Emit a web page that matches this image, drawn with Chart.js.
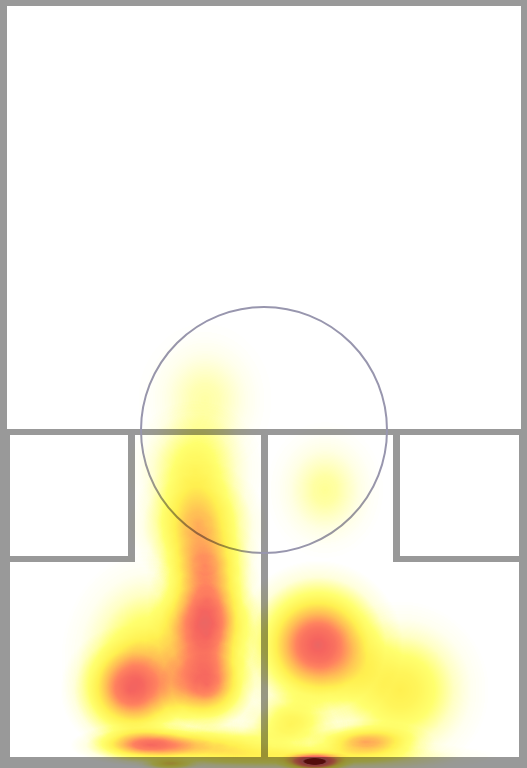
<!DOCTYPE html>
<html>
<head>
<meta charset="utf-8">
<script src="https://cdn.jsdelivr.net/npm/chart.js@4.4.1/dist/chart.umd.min.js"></script>
<style>
    html, body { margin: 0; padding: 0; background: #999999; }
    canvas { display: block; }
</style>
</head>
<body>
<canvas id="courtChart" width="527" height="768"></canvas>
<script>
// heat spots in court units (court is 527 x 768 units, y grows toward the back wall)
var heatX       = [205, 195, 198, 205, 207, 207, 207, 130, 150, 150, 220, 325, 318, 400, 365, 290, 315, 300, 170];
var heatY       = [400, 470, 525, 565, 600, 635, 685, 690, 660, 745, 745, 490, 645, 690, 742, 725, 762, 757, 764];
var heatSpreadX = [ 70,  70,  70,  60,  60,  62,  60,  70,  90,  80,  90,  60,  85,  90,  70,  60,  40, 200,  35];
var heatSpreadY = [ 80,  70,  65,  50,  60,  65,  55,  65, 110,  22,  25,  70,  85,  90,  22,  40,  12,  18,   8];
var heatWeight  = [.13, .28, .50, .40, .45, .62, .64, .60, .35, .70, .35, .15, .85, .35, .50, .30, 1.0, .30, .35];

var lineGray = "#999999";
var circleColor = "#9896ae";

// white floor areas between the gray court lines
var floorAreas = [
    [7, 6, 521, 429],
    [10, 435, 128, 556],
    [135, 435, 261, 562],
    [10, 562, 261, 757],
    [268, 435, 393, 562],
    [400, 435, 519, 556],
    [268, 562, 519, 757],
];
var circle = { x: 264, y: 430, r: 123 };

var heatStops = [
    [0.00, [255, 255, 255]],
    [0.05, [255, 255, 225]],
    [0.20, [255, 255, 110]],
    [0.35, [255, 240, 80]],
    [0.50, [255, 190, 85]],
    [0.65, [255, 130, 95]],
    [0.80, [245, 100, 95]],
    [0.92, [220, 105, 105]],
    [1.00, [140, 20, 20]],
];

function buildPalette() {
    var lut = [];
    for (var i = 0; i < 256; i++) {
        var t = i / 255;
        var k = 0;
        while (k < heatStops.length - 2 && t > heatStops[k + 1][0]) k++;
        var a = heatStops[k], b = heatStops[k + 1];
        var f = (t - a[0]) / (b[0] - a[0]);
        lut.push([0, 1, 2].map(function (c) {
            return Math.round(a[1][c] + (b[1][c] - a[1][c]) * f);
        }));
    }
    return lut;
}
var palette = buildPalette();

var courtPlugin = {
    id: "court",
    beforeDatasetsDraw: function (chart) {
        var ctx = chart.ctx;
        var xs = chart.scales.x, ys = chart.scales.y;
        ctx.save();
        ctx.fillStyle = lineGray;
        ctx.fillRect(0, 0, chart.width, chart.height);
        ctx.fillStyle = "#ffffff";
        floorAreas.forEach(function (r) {
            var x0 = xs.getPixelForValue(r[0]), y0 = ys.getPixelForValue(r[1]);
            var x1 = xs.getPixelForValue(r[2]), y1 = ys.getPixelForValue(r[3]);
            ctx.fillRect(x0, y0, x1 - x0, y1 - y0);
        });
        var cx = xs.getPixelForValue(circle.x), cy = ys.getPixelForValue(circle.y);
        var cr = xs.getPixelForValue(circle.x + circle.r) - cx;
        ctx.strokeStyle = circleColor;
        ctx.lineWidth = 2;
        ctx.beginPath();
        ctx.arc(cx, cy, cr, 0, Math.PI * 2);
        ctx.stroke();
        ctx.restore();
    },
};

var falloff = [[0, 1], [0.2, 0.85], [0.4, 0.55], [0.6, 0.25], [0.8, 0.07], [1, 0]];

var heatPlugin = {
    id: "heat",
    afterDatasetsDraw: function (chart) {
        var meta = chart.getDatasetMeta(0);
        var pts = chart.data.datasets[0].data;
        var xs = chart.scales.x, ys = chart.scales.y;
        var w = chart.canvas.width, h = chart.canvas.height;
        var off = document.createElement("canvas");
        off.width = w;
        off.height = h;
        var o = off.getContext("2d");
        o.globalCompositeOperation = "lighter";
        meta.data.forEach(function (el, i) {
            var d = pts[i];
            var rx = Math.abs(xs.getPixelForValue(d.x + d.sx) - el.x);
            var ry = Math.abs(ys.getPixelForValue(d.y + d.sy) - el.y);
            var g = o.createRadialGradient(0, 0, 0, 0, 0, rx);
            falloff.forEach(function (s) {
                g.addColorStop(s[0], "rgba(0,0,0," + d.w * s[1] + ")");
            });
            o.save();
            o.translate(el.x, el.y);
            o.scale(1, ry / rx);
            o.fillStyle = g;
            o.fillRect(-rx, -rx, rx * 2, rx * 2);
            o.restore();
        });
        var img = o.getImageData(0, 0, w, h);
        var px = img.data;
        for (var p = 0; p < px.length; p += 4) {
            var c = palette[px[p + 3]];
            px[p] = c[0];
            px[p + 1] = c[1];
            px[p + 2] = c[2];
            px[p + 3] = 255;
        }
        o.putImageData(img, 0, 0);
        var ctx = chart.ctx;
        ctx.save();
        ctx.setTransform(1, 0, 0, 1, 0, 0);
        ctx.globalCompositeOperation = "multiply";
        ctx.drawImage(off, 0, 0);
        ctx.restore();
    },
};

new Chart("courtChart", {
    type: "scatter",
    data: {
        datasets: [
            {
                data: heatX.map(function (x, i) {
                    return { x: x, y: heatY[i], sx: heatSpreadX[i], sy: heatSpreadY[i], w: heatWeight[i] };
                }),
                pointRadius: 0,
            },
        ],
    },
    options: {
        responsive: false,
        animation: false,
        events: [],
        layout: { padding: 0 },
        scales: {
            x: { type: "linear", min: 0, max: 527, display: false },
            y: { type: "linear", min: 0, max: 768, reverse: true, display: false },
        },
        plugins: {
            legend: { display: false },
            tooltip: { enabled: false },
        },
    },
    plugins: [courtPlugin, heatPlugin],
});
</script>
</body>
</html>
